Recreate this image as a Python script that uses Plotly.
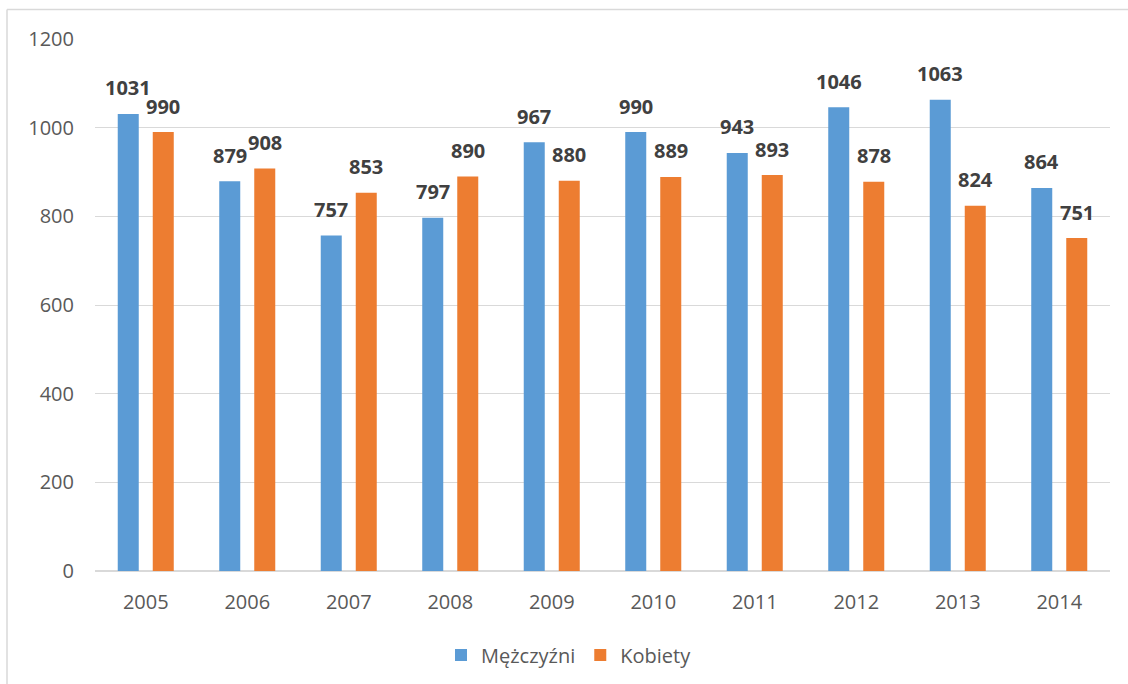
import plotly.graph_objects as go

years = ["2005", "2006", "2007", "2008", "2009", "2010", "2011", "2012", "2013", "2014"]
men = [1031, 879, 757, 797, 967, 990, 943, 1046, 1063, 864]
women = [990, 908, 853, 890, 880, 889, 893, 878, 824, 751]
series_names = ["Mężczyźni", "Kobiety"]
colors = ["#5b9bd5", "#ed7d31"]

W, H = 1128, 684
L, R, T, B = 95, 18, 39, 113
pw, ph = W - L - R, H - T - B


def px_x(p):
    return (p - L) / pw


def px_y(p):
    return (H - B - p) / ph


fig = go.Figure()
annotations = []
for k, (name, vals, col) in enumerate(zip(series_names, [men, women], colors)):
    fig.add_trace(go.Bar(
        x=years, y=vals, name=name,
        marker=dict(color=col, line=dict(width=0)),
    ))
    shift = -17.5 if k == 0 else 17.5
    for i, v in enumerate(vals):
        annotations.append(dict(
            x=i, y=v, xref="x", yref="y", text=str(v), showarrow=False,
            xshift=shift, yshift=26, yanchor="middle", xanchor="center",
            font=dict(family="Open Sans", size=20, color="#404040", weight="bold"),
        ))

fig.update_layout(
    width=W, height=H,
    margin=dict(l=L, r=R, t=T, b=B, autoexpand=False),
    paper_bgcolor="white", plot_bgcolor="white",
    barmode="group", bargap=0.31, bargroupgap=0.4,
    font=dict(family="Open Sans", color="#595959", size=20),
    showlegend=True,
    legend=dict(orientation="h", x=px_x(441), xanchor="left", yref="container",
                y=1 - 655 / H, yanchor="middle",
                font=dict(family="Open Sans", size=20, color="#595959"),
                traceorder="normal", itemwidth=30, bgcolor="rgba(0,0,0,0)"),
    xaxis=dict(type="category", range=[-0.5, len(years) - 0.5], showgrid=False,
               showline=False, ticks="", automargin=False, ticklabelstandoff=17,
               tickfont=dict(family="Open Sans", size=20, color="#595959")),
    yaxis=dict(range=[0, 1200], dtick=200, showgrid=True, gridcolor="#d9d9d9", gridwidth=1,
               zeroline=True, zerolinecolor="#d9d9d9", zerolinewidth=1.5, showline=False,
               ticks="", automargin=False, ticklabelstandoff=20,
               tickfont=dict(family="Open Sans", size=20, color="#595959")),
    annotations=annotations,
    shapes=[
        dict(type="line", xref="paper", yref="paper", x0=px_x(7), x1=px_x(1140),
             y0=px_y(9.5), y1=px_y(9.5), line=dict(color="#d9d9d9", width=1.5)),
        dict(type="line", xref="paper", yref="paper", x0=px_x(7), x1=px_x(7),
             y0=px_y(9.5), y1=px_y(700), line=dict(color="#d9d9d9", width=1.5)),
    ],
)

fig.write_html("out.html", config={"displayModeBar": False},
               post_script="document.body.style.margin='0';")
